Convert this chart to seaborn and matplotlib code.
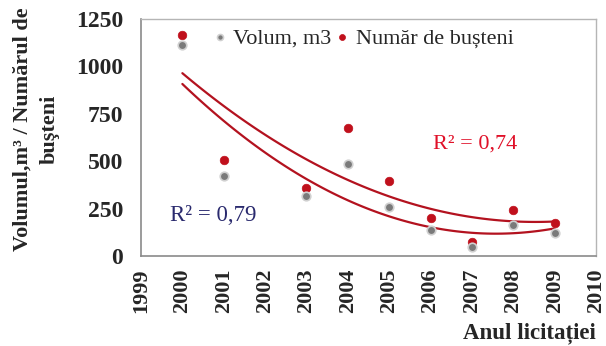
import matplotlib
matplotlib.use("Agg")
import matplotlib.pyplot as plt
import seaborn as sns
import pandas as pd

years = [2000, 2001, 2003, 2004, 2005, 2006, 2007, 2008, 2009]
volum = [1111, 423, 317, 487, 259, 138, 48, 164, 122]
busteni = [1164, 508, 360, 677, 397, 201, 74, 243, 175]
xticks = list(range(1999, 2011))
yticks = [0, 250, 500, 750, 1000, 1250]

df = pd.DataFrame({"an": years, "volum": volum, "busteni": busteni})

sns.set_style("white")
plt.rcParams["font.family"] = ["Liberation Serif", "DejaVu Serif"]

fig = plt.figure(figsize=(6.06, 3.46), dpi=100)
ax = fig.add_axes([141/606, 1-256/346, 455/606, 237/346])

line_col = "#b3121f"
sns.regplot(data=df, x="an", y="busteni", order=2, ci=None, scatter=False,
            line_kws=dict(color=line_col, lw=1.6), ax=ax)
sns.regplot(data=df, x="an", y="volum", order=2, ci=None, scatter=False,
            line_kws=dict(color=line_col, lw=1.6), ax=ax)

sns.scatterplot(data=df, x="an", y="volum", color="#7a7a7a", s=38,
                edgecolor="#d0d0d0", linewidth=1.2, zorder=4, ax=ax,
                label="Volum, m3")
sns.scatterplot(data=df, x="an", y="busteni", color="#c0101c", s=38,
                edgecolor="#c0101c", linewidth=0.5, zorder=3, ax=ax,
                label="Număr de bușteni")

ax.set_xlim(1999, 2010)
ax.set_ylim(0, 1250)
ax.set_xticks(xticks)
ax.set_yticks(yticks)
ax.set_xticklabels([str(t) for t in xticks], rotation=90, fontsize=16,
                   fontweight="bold")
ax.set_yticklabels([str(t) for t in yticks], fontsize=17, fontweight="bold")
ax.tick_params(axis="both", length=3, color="#888888")
ax.tick_params(axis="y", pad=10)
ax.tick_params(axis="x", pad=6)

for s in ["left", "bottom"]:
    ax.spines[s].set_color("#8a8a8a")
    ax.spines[s].set_linewidth(1.2)
for s in ["top", "right"]:
    ax.spines[s].set_color("#b5b5b5")
    ax.spines[s].set_linewidth(1.0)

ax.set_xlabel("")
ax.set_ylabel("")
fig.text(36/606, 1-129/346, "Volumul,m³ / Numărul de\nbuşteni", rotation=90,
         ha="center", va="center", fontsize=16, linespacing=1.45,
         fontweight="bold")
fig.text(529/606, 1-333/346, "Anul licitației", ha="center", va="center",
         fontsize=16.5, fontweight="bold")

ax.text(1999.7, 212, "R² = 0,79", color="#2a2a6e", fontsize=16.5,
        ha="left", va="center")
ax.text(2006.05, 590, "R² = 0,74", color="#e01028", fontsize=16,
        ha="left", va="center")

leg = ax.legend(loc="center left", bbox_to_anchor=(0.134, 0.92), ncol=2,
                frameon=False, fontsize=16, handletextpad=0.2,
                columnspacing=0.1, markerscale=0.7, borderaxespad=0.0,
                handlelength=0.8)

fig.savefig("out.png", dpi=100)
